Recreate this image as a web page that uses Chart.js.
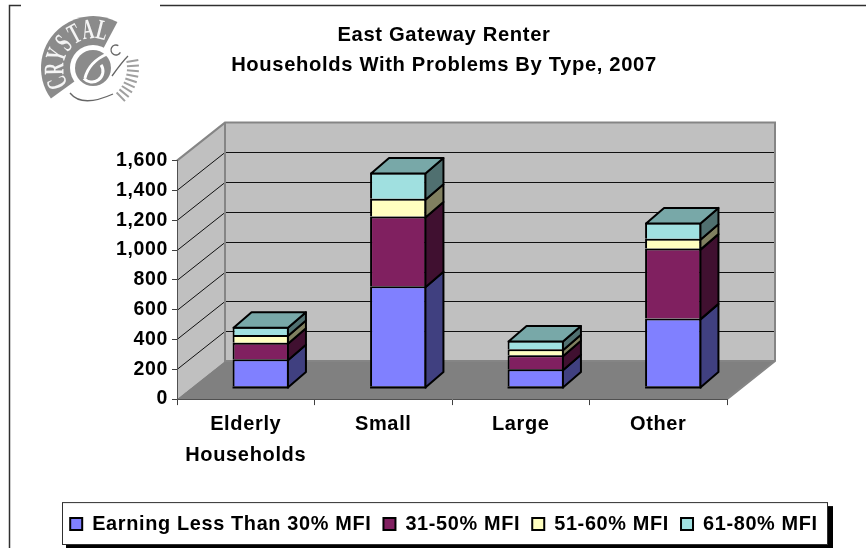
<!DOCTYPE html>
<html>
<head>
<meta charset="utf-8">
<style>
html,body{margin:0;padding:0;background:#fff;}
#wrap{width:866px;height:548px;position:relative;}
</style>
<script src="https://cdn.jsdelivr.net/npm/chart.js@4"></script>
</head>
<body>
<div id="wrap"><canvas id="c" width="866" height="548"></canvas></div>
<script>
const categories = [["Elderly","Households"],"Small","Large","Other"];
const seriesNames = ["Earning Less Than 30% MFI","31-50% MFI","51-60% MFI","61-80% MFI"];
const under30 = [187,677,120,461];
const mfi31to50 = [111,468,94,468];
const mfi51to60 = [52,118,40,67];
const mfi61to80 = [55,176,58,109];
const titleLines = ["East Gateway Renter","Households With Problems By Type, 2007"];
const frontColors = ["#8080FF","#802060","#FFFFC0","#A0E0E0"];
const sideColors = ["#404080","#401030","#808060","#507070"];
const topColor = "#78A8A8";
const FONT = "'Liberation Sans', Arial, sans-serif";
const TRACKING = "0.65px";
// 3D projection offsets
const wallDX = 48, wallDY = -38;
const barOX = 15, barOY = -12;
const barDX = 18, barDY = -15.5;
const BW = 2;

function poly(ctx, pts, fill, stroke, lw){
  ctx.beginPath();
  pts.forEach((p,i)=> i?ctx.lineTo(p[0],p[1]):ctx.moveTo(p[0],p[1]));
  ctx.closePath();
  if(fill){ctx.fillStyle=fill;ctx.fill();}
  if(stroke){ctx.strokeStyle=stroke;ctx.lineWidth=lw;ctx.stroke();}
}
function drawLogo(ctx){
  const cx=93, cy=68, R=52, g="#8b8b8b";
  ctx.save();
  ctx.beginPath();ctx.moveTo(cx,cy);
  ctx.arc(cx,cy,R,144*Math.PI/180,298*Math.PI/180);
  ctx.closePath();ctx.fillStyle=g;ctx.fill();
  const letters="CRYSTAL".split("");
  letters.forEach((l,i)=>{
    const a=(158+i*21)*Math.PI/180;
    ctx.save();
    ctx.translate(cx+37*Math.cos(a),cy+37*Math.sin(a));
    ctx.rotate(a+Math.PI/2);
    ctx.scale(0.85,1.5);
    ctx.fillStyle="#f4f4f4";
    ctx.font="bold 19px 'Liberation Serif', serif";
    ctx.textAlign="center";ctx.textBaseline="middle";
    ctx.fillText(l,0,0);
    ctx.restore();
  });
  ctx.beginPath();ctx.arc(cx,cy,23,0,Math.PI*2);ctx.fillStyle="#fff";ctx.fill();
  ctx.beginPath();ctx.arc(cx,cy,18,0,Math.PI*2);ctx.fillStyle=g;ctx.fill();
  ctx.strokeStyle="#fff";ctx.lineWidth=3;
  ctx.beginPath();ctx.arc(cx-1,cy+3,11,-0.6,2.4);ctx.stroke();
  ctx.beginPath();ctx.moveTo(cx-8,cy+10);ctx.quadraticCurveTo(cx-4,cy-6,cx+14,cy-14);ctx.stroke();
  ctx.strokeStyle="#666";ctx.lineWidth=1.3;
  ctx.beginPath();ctx.moveTo(70,93);ctx.quadraticCurveTo(82,108,113,94);ctx.stroke();
  ctx.beginPath();ctx.arc(116,50,5,0.5,5.2);ctx.stroke();
  ctx.beginPath();ctx.moveTo(112,76);ctx.quadraticCurveTo(122,62,128,56);ctx.stroke();
  ctx.strokeStyle="#a0a0a0";ctx.lineWidth=2;
  for(let d=-10;d<=50;d+=7){
    const a=d*Math.PI/180;
    ctx.beginPath();
    ctx.moveTo(cx+34*Math.cos(a),cy+34*Math.sin(a));
    ctx.lineTo(cx+46*Math.cos(a),cy+46*Math.sin(a));
    ctx.stroke();
  }
  ctx.restore();
}
const scenePlugin = {
  id:"scene",
  beforeLayout(chart){ chart.ctx.letterSpacing=TRACKING; },
  beforeDraw(chart){
    const ctx=chart.ctx, a=chart.chartArea, ys=chart.scales.y;
    const l=a.left,r=a.right,t=a.top,b=a.bottom;
    ctx.letterSpacing=TRACKING;
    ctx.save();
    ctx.fillStyle="#fff";ctx.fillRect(0,0,chart.width,chart.height);
    // page frame
    ctx.strokeStyle="#303030";ctx.lineWidth=1.5;
    ctx.beginPath();ctx.moveTo(21,5.5);ctx.lineTo(9.5,5.5);ctx.lineTo(9.5,548);ctx.stroke();
    ctx.beginPath();ctx.moveTo(160,5.5);ctx.lineTo(866,5.5);ctx.stroke();
    drawLogo(ctx);
    // walls and floor
    poly(ctx,[[l+wallDX,t+wallDY],[r+wallDX,t+wallDY],[r+wallDX,b+wallDY],[l+wallDX,b+wallDY]],"#C0C0C0");
    poly(ctx,[[l,t],[l+wallDX,t+wallDY],[l+wallDX,b+wallDY],[l,b]],"#C0C0C0");
    poly(ctx,[[l,b],[l+wallDX,b+wallDY],[r+wallDX,b+wallDY],[r,b]],"#808080");
    // grid
    ctx.strokeStyle="#101010";ctx.lineWidth=1;
    ys.ticks.forEach(tk=>{
      if(tk.value===0) return;
      const y=Math.round(ys.getPixelForValue(tk.value))+0.5;
      if(tk.value<1600){
        ctx.beginPath();ctx.moveTo(l+wallDX,y+wallDY);ctx.lineTo(r+wallDX,y+wallDY);ctx.stroke();
        ctx.beginPath();ctx.moveTo(l,y);ctx.lineTo(l+wallDX,y+wallDY);ctx.stroke();
      }
    });
    // wall outline
    ctx.strokeStyle="#858585";ctx.lineWidth=2;ctx.lineJoin="miter";
    ctx.beginPath();ctx.moveTo(l,t);ctx.lineTo(l+wallDX,t+wallDY);ctx.lineTo(r+wallDX,t+wallDY);ctx.lineTo(r+wallDX,b+wallDY);ctx.lineTo(r,b);ctx.stroke();
    ctx.beginPath();ctx.moveTo(l+wallDX,t+wallDY);ctx.lineTo(l+wallDX,b+wallDY);ctx.lineTo(r+wallDX,b+wallDY);ctx.stroke();
    // legend frame
    const hb=chart.legend.legendHitBoxes;
    const fl=Math.round(hb[0].left)-8, fr=Math.round(hb[hb.length-1].left+hb[hb.length-1].width)+9;
    const ft=chart.legend.top, fb=chart.legend.bottom;
    ctx.fillStyle="#000";ctx.fillRect(fl+4,ft+4,fr-fl+2,fb-ft+2);
    ctx.fillStyle="#fff";ctx.fillRect(fl,ft,fr-fl,fb-ft);
    ctx.strokeStyle="#303030";ctx.lineWidth=1;ctx.strokeRect(fl+0.5,ft+0.5,fr-fl,fb-ft);
    ctx.restore();
  },
  beforeDatasetDraw(chart){
    chart.ctx.save();
    chart.ctx.translate(barOX,barOY);
  },
  afterDatasetDraw(chart){
    chart.ctx.restore();
  },
  afterDatasetsDraw(chart){
    const ctx=chart.ctx, last=chart.data.datasets.length-1;
    ctx.save();
    ctx.lineJoin="round";
    chart.data.datasets.forEach((ds,di)=>{
      chart.getDatasetMeta(di).data.forEach(el=>{
        const p=el.getProps(["x","y","base","width"],true);
        const R=p.x+p.width/2+barOX-BW/2, L=p.x-p.width/2+barOX+BW/2;
        const y=p.y+barOY+BW/2, base=p.base+barOY+BW/2;
        poly(ctx,[[R,y],[R+barDX,y+barDY],[R+barDX,base+barDY],[R,base]],sideColors[di],"#000",BW);
        if(di===0){
          ctx.strokeStyle="#000";ctx.lineWidth=BW;
          ctx.beginPath();ctx.moveTo(L-BW/2,base);ctx.lineTo(R+BW/2,base);ctx.stroke();
        }
        if(di===last){
          poly(ctx,[[L,y],[L+barDX,y+barDY],[R+barDX,y+barDY],[R,y]],topColor,"#000",BW);
        }
      });
    });
    ctx.restore();
  }
};
const tickFont={family:FONT,size:20,weight:"bold",lineHeight:1.55};
new Chart(document.getElementById("c"),{
  type:"bar",
  data:{
    labels:categories,
    datasets:[under30,mfi31to50,mfi51to60,mfi61to80].map((v,i)=>({
      label:seriesNames[i],data:v,backgroundColor:frontColors[i],
      borderColor:"#000",borderWidth:BW,borderSkipped:"bottom",clip:false,
      categoryPercentage:0.41,barPercentage:1
    }))
  },
  options:{
    responsive:false,animation:false,
    layout:{padding:{left:22,right:0,top:0,bottom:4}},
    scales:{
      x:{
        stacked:true,
        grid:{drawOnChartArea:false,tickLength:6,tickColor:"#404040",tickWidth:1},
        border:{color:"#505050",width:1},
        ticks:{font:tickFont,color:"#000",autoSkip:false,maxRotation:0,padding:4},
        afterFit(s){s.height=103;}
      },
      y:{
        stacked:true,min:0,max:1600,
        grid:{drawOnChartArea:false,tickLength:5,tickColor:"#404040",tickWidth:1},
        border:{color:"#505050",width:1},
        ticks:{stepSize:200,font:{family:FONT,size:19.5,weight:"bold"},color:"#000",padding:4,
          callback:v=>v.toLocaleString("en-US")},
        afterFit(s){s.width=155;}
      },
      spacer:{
        position:"right",display:true,
        grid:{display:false},border:{display:false},ticks:{display:false},
        afterFit(s){s.width=139;}
      }
    },
    plugins:{
      title:{display:true,text:titleLines,color:"#000",
        font:{family:FONT,size:20.2,weight:"bold",lineHeight:1.5},
        padding:{top:20,bottom:80}},
      legend:{position:"bottom",
        labels:{color:"#000",boxWidth:12,boxHeight:12,padding:12,
          font:{family:FONT,size:19.9,weight:"bold"}}},
      tooltip:{enabled:false}
    }
  },
  plugins:[scenePlugin]
});
</script>
</body>
</html>
